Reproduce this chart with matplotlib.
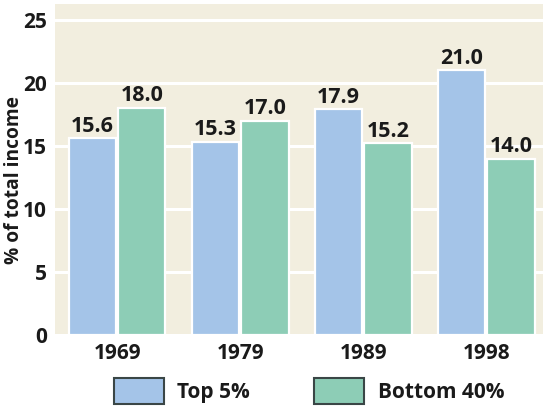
import matplotlib
matplotlib.use("Agg")
import matplotlib.pyplot as plt
import numpy as np
from matplotlib.patches import Patch

years = ["1969", "1979", "1989", "1998"]
top5 = [15.6, 15.3, 17.9, 21.0]
bottom40 = [18.0, 17.0, 15.2, 14.0]
series_names = ["Top 5%", "Bottom 40%"]
yticks = [0, 5, 10, 15, 20, 25]

bg = '#F2EEDF'
blue = '#A4C4E8'
green = '#8DCDB6'
ink = '#1A1A1A'

plt.rcParams.update({'font.family': ['Open Sans', 'DejaVu Sans'], 'font.weight': 'bold'})

fig = plt.figure(figsize=(5.44, 4.08), dpi=100)
ax = fig.add_axes([55/544, 1 - 335/408, 488/544, 331/408])
ax.set_facecolor(bg)

x = np.arange(len(years))
off = 0.2
w = 0.385
b1 = ax.bar(x - off, top5, w, color=blue, edgecolor='white', linewidth=1.6, zorder=3, label=series_names[0])
b2 = ax.bar(x + off, bottom40, w, color=green, edgecolor='white', linewidth=1.6, zorder=3, label=series_names[1])

for bars, vals in ((b1, top5), (b2, bottom40)):
    for r, v in zip(bars, vals):
        ax.text(r.get_x() + r.get_width()/2, v + 0.15, f"{v:.1f}", ha='center', va='bottom',
                fontsize=15.5, fontweight='bold', color=ink, zorder=4)

ax.set_xlim(-0.505, 3.46)
ax.set_ylim(0, 26.27)
ax.set_yticks(yticks)
ax.set_xticks(x)
ax.set_xticklabels(years)
ax.yaxis.grid(True, color='white', linewidth=2.2, zorder=1)
ax.set_axisbelow(True)
for s in ax.spines.values():
    s.set_visible(False)
ax.tick_params(axis='both', length=0, labelsize=15, colors=ink)
ax.tick_params(axis='y', pad=6)
ax.tick_params(axis='x', pad=6)
for lab in ax.get_xticklabels() + ax.get_yticklabels():
    lab.set_fontweight('bold')
ax.set_ylabel("% of total income", fontsize=13.8, fontweight='bold', color=ink)
ax.yaxis.set_label_coords(-0.063, 0.467)

# legend with outlined boxes
handles = [Patch(facecolor=blue, edgecolor='#3A4646', linewidth=1.5),
           Patch(facecolor=green, edgecolor='#3A4646', linewidth=1.5)]
leg = fig.legend(handles, series_names, loc='center', bbox_to_anchor=(0.568, 0.042), ncol=2,
                 frameon=False, fontsize=15, handlelength=2.4, handleheight=1.5,
                 handletextpad=0.65, columnspacing=3.1, borderpad=0, borderaxespad=0)
for t in leg.get_texts():
    t.set_fontweight('bold')
    t.set_color(ink)

fig.savefig("out.png", dpi=100, facecolor='white')
